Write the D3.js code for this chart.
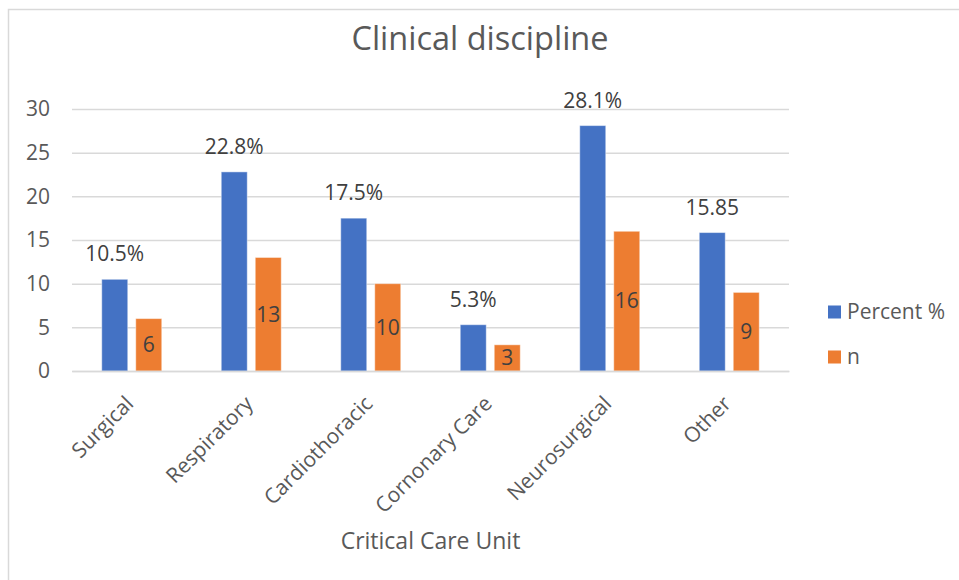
<!DOCTYPE html>
<html>
<head>
<meta charset="utf-8">
<script src="https://cdn.jsdelivr.net/npm/d3@7"></script>
<style>
  html, body { margin: 0; padding: 0; background: #fff; }
  svg { display: block; font-family: "Open Sans", sans-serif; }
</style>
</head>
<body>
<svg id="chart" width="959" height="580"></svg>
<script>
// Clinical discipline by critical care unit
const categories = ["Surgical", "Respiratory", "Cardiothoracic", "Cornonary Care", "Neurosurgical", "Other"];
const percentValues = [10.5, 22.8, 17.5, 5.3, 28.1, 15.85];
const percentLabels = ["10.5%", "22.8%", "17.5%", "5.3%", "28.1%", "15.85"];
const countValues = [6, 13, 10, 3, 16, 9];
const yTicks = [0, 5, 10, 15, 20, 25, 30];
const seriesNames = ["Percent %", "n"];
const seriesColors = ["#4472C4", "#ED7D31"];

const svg = d3.select("#chart");
const W = 959, H = 580;
const plot = { left: 72, right: 789, top: 109, bottom: 371 };

// chart area frame (top and left edges visible)
svg.append("rect")
  .attr("x", 8.5).attr("y", 9.5)
  .attr("width", W + 20).attr("height", H + 20)
  .attr("fill", "#fff")
  .attr("stroke", "#d9d9d9").attr("stroke-width", 1.5);

const x = d3.scaleBand().domain(categories).range([plot.left, plot.right]);
const y = d3.scaleLinear().domain([0, 30]).range([plot.bottom, plot.top]);

// title
svg.append("text")
  .attr("x", 480).attr("y", 50)
  .attr("text-anchor", "middle")
  .attr("font-size", 32.5)
  .attr("fill", "#595959")
  .text("Clinical discipline");

// gridlines
const yAxis = d3.axisLeft(y).tickValues(yTicks).tickSize(-(plot.right - plot.left)).tickPadding(22);
const gy = svg.append("g")
  .attr("transform", `translate(${plot.left},0)`)
  .call(yAxis);
gy.select(".domain").remove();
gy.selectAll(".tick line").attr("stroke", "#d9d9d9").attr("stroke-width", 1.5);
gy.selectAll(".tick text")
  .attr("font-size", 21)
  .attr("font-family", "Open Sans, sans-serif")
  .attr("fill", "#595959");

// bars
const barW = 26, gap = 8;
const offsets = [-(gap / 2 + barW), gap / 2];
const series = [percentValues, countValues];

series.forEach((vals, si) => {
  svg.append("g").selectAll("rect")
    .data(vals)
    .join("rect")
    .attr("x", (d, i) => x(categories[i]) + x.bandwidth() / 2 + offsets[si])
    .attr("y", d => y(d))
    .attr("width", barW)
    .attr("height", d => y(0) - y(d))
    .attr("fill", seriesColors[si])
    .attr("stroke", "rgba(255,255,255,0.45)")
    .attr("stroke-width", 1);
});

// percent labels above the blue bars
svg.append("g").selectAll("text")
  .data(percentValues)
  .join("text")
  .attr("x", (d, i) => x(categories[i]) + x.bandwidth() / 2 + offsets[0] + barW / 2)
  .attr("y", d => y(d) - 18)
  .attr("text-anchor", "middle")
  .attr("font-size", 21)
  .attr("fill", "#404040")
  .text((d, i) => percentLabels[i]);

// count labels centred in the orange bars
svg.append("g").selectAll("text")
  .data(countValues)
  .join("text")
  .attr("x", (d, i) => x(categories[i]) + x.bandwidth() / 2 + offsets[1] + barW / 2)
  .attr("y", d => (y(d) + y(0)) / 2)
  .attr("dy", "0.35em")
  .attr("text-anchor", "middle")
  .attr("font-size", 21)
  .attr("fill", "#404040")
  .text(d => d);

// x axis category labels
const gx = svg.append("g")
  .attr("transform", `translate(0,${plot.bottom})`)
  .call(d3.axisBottom(x).tickSize(0).tickFormat(""));
gx.select(".domain").attr("stroke", "#d9d9d9").attr("stroke-width", 1.5);
svg.append("g").selectAll("text")
  .data(categories)
  .join("text")
  .attr("transform", d => `translate(${x(d) + x.bandwidth() / 2 + 3},${plot.bottom + 34}) rotate(-45)`)
  .attr("text-anchor", "end")
  .attr("font-size", 21)
  .attr("fill", "#595959")
  .text(d => d);

// axis title
svg.append("text")
  .attr("x", (plot.left + plot.right) / 2).attr("y", 549)
  .attr("text-anchor", "middle")
  .attr("font-size", 23)
  .attr("fill", "#595959")
  .text("Critical Care Unit");

// legend
const legend = svg.append("g");
seriesNames.forEach((name, i) => {
  const ly = 312 + i * 45;
  legend.append("rect")
    .attr("x", 828).attr("y", ly - 6.5)
    .attr("width", 13).attr("height", 13)
    .attr("fill", seriesColors[i]);
  legend.append("text")
    .attr("x", 847).attr("y", ly)
    .attr("dy", "0.35em")
    .attr("font-size", 21)
    .attr("fill", "#595959")
    .text(name);
});
</script>
</body>
</html>
